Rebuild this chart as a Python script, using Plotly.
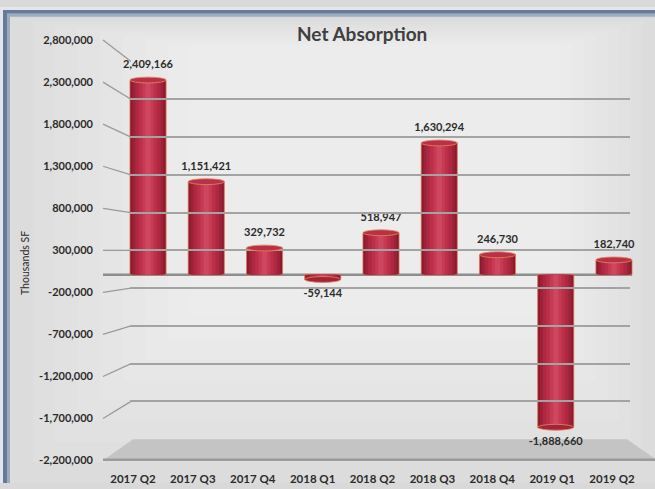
import plotly.graph_objects as go

# ---- data -------------------------------------------------------------
QUARTERS = ["2017 Q2", "2017 Q3", "2017 Q4", "2018 Q1", "2018 Q2",
            "2018 Q3", "2018 Q4", "2019 Q1", "2019 Q2"]
NET_ABSORPTION = [2409166, 1151421, 329732, -59144, 518947,
                  1630294, 246730, -1888660, 182740]
Y_TICKS = [2800000, 2300000, 1800000, 1300000, 800000, 300000,
           -200000, -700000, -1200000, -1700000, -2200000]

TITLE = "Net Absorption"
Y_TITLE = "Thousands SF"

# ---- canvas helpers (pixel -> paper) ------------------------------------
W, H = 655, 489
Y_RANGE = [-2200000, 2800000]


def px(x):
    return x / W


def py(y):
    return 1 - y / H


def value_px(v, top, bottom):
    """Pixel row of value v on an axis spanning Y_RANGE between top/bottom."""
    lo, hi = Y_RANGE
    return top + (hi - v) / (hi - lo) * (bottom - top)


# vertical extents (pixels) of the three value scales of the 3-D look
LABEL_SPAN = (34, 466)     # front edge: tick labels
BAR_SPAN = (42.6, 457.6)   # mid depth: the cylinders
WALL_SPAN = (56, 444)      # back wall: grid lines

FONT = "Lato"
DARK = "#2b2b2b"
BAR_WIDTH = 0.62

fig = go.Figure()

# cylinder shading: stacked bars of shrinking width, lighter towards centre
shades = [(BAR_WIDTH, "#8a1a30"), (0.54, "#9d2139"), (0.44, "#ae2841"),
          (0.32, "#bc2f48"), (0.20, "#c63a53"), (0.09, "#cd4760")]
for i, (w, c) in enumerate(shades):
    first = i == 0
    fig.add_trace(go.Bar(
        x=QUARTERS, y=NET_ABSORPTION, width=w,
        marker=dict(color=c,
                    line=dict(color="rgba(222,120,80,0.75)" if first else c,
                              width=1 if first else 0)),
        cliponaxis=False, hoverinfo="skip", showlegend=False,
        xaxis="x", yaxis="y",
    ))

# value labels: above positive bars, below negative ones
fig.add_trace(go.Scatter(
    x=QUARTERS, y=NET_ABSORPTION, mode="markers+text",
    marker=dict(size=13, opacity=0),
    text=[f"{v:,}" for v in NET_ABSORPTION],
    textposition=["top center" if v >= 0 else "bottom center"
                  for v in NET_ABSORPTION],
    textfont=dict(family=FONT, size=11, color=DARK, weight="bold"),
    cliponaxis=False, hoverinfo="skip", showlegend=False,
    xaxis="x", yaxis="y",
))

# carriers for the front tick labels and the back-wall grid
fig.add_trace(go.Scatter(x=QUARTERS, y=NET_ABSORPTION, mode="markers",
                         marker=dict(opacity=0), hoverinfo="skip",
                         showlegend=False, xaxis="x2", yaxis="y2"))
fig.add_trace(go.Scatter(x=QUARTERS, y=NET_ABSORPTION, mode="markers",
                         marker=dict(opacity=0), hoverinfo="skip",
                         showlegend=False, xaxis="x3", yaxis="y3"))

shapes = []

# soft radial-ish background: stacked translucent white panels
outer = (10, 11, 655, 489)
inner = (190, 40, 560, 320)
n = 9
for k in range(n):
    t = k / (n - 1)
    x0 = outer[0] + (inner[0] - outer[0]) * t
    y0 = outer[1] + (inner[1] - outer[1]) * t
    x1 = outer[2] + (inner[2] - outer[2]) * t
    y1 = outer[3] + (inner[3] - outer[3]) * t
    shapes.append(dict(type="rect", xref="paper", yref="paper",
                       x0=px(x0), x1=px(x1), y0=py(y1), y1=py(y0),
                       fillcolor="rgba(255,255,255,0.09)", line_width=0,
                       layer="below"))

# frame
frame = [((0, 0, 655, 3), "#e3e7ec"), ((0, 0, 3, 489), "#e3e7ec"),
         ((3, 3, 655, 7), "#677b99"), ((3, 3, 7, 489), "#677b99"),
         ((7, 7, 655, 10), "#9dabc0"), ((7, 7, 10, 489), "#9dabc0")]
for (x0, y0, x1, y1), c in frame:
    shapes.append(dict(type="rect", xref="paper", yref="paper",
                       x0=px(x0), x1=px(x1), y0=py(y1), y1=py(y0),
                       fillcolor=c, line_width=0, layer="below"))

# slanted connectors from the tick labels back to the wall grid lines
for v in Y_TICKS[:-1]:
    y_front = value_px(v, *LABEL_SPAN)
    y_back = value_px(v, *WALL_SPAN)
    shapes.append(dict(type="line", xref="paper", yref="paper",
                       x0=px(103), x1=px(131), y0=py(y_front), y1=py(y_back),
                       line=dict(color="#9a9a9a", width=1.3), layer="below"))

# floor
y_floor_back = value_px(Y_RANGE[0], *WALL_SPAN)
y_floor_front = value_px(Y_RANGE[0], *LABEL_SPAN)
shapes.append(dict(
    type="path", xref="paper", yref="paper",
    path=(f"M {px(133)} {py(y_floor_back)} L {px(627)} {py(y_floor_back)} "
          f"L {px(655)} {py(y_floor_front - 2)} L {px(655)} {py(y_floor_front)} "
          f"L {px(103)} {py(y_floor_front)} Z"),
    fillcolor="#c4c4c4", line_width=0, layer="between"))
shapes.append(dict(type="line", xref="paper", yref="paper",
                   x0=px(103), x1=px(655),
                   y0=py(y_floor_front - 1), y1=py(y_floor_front - 1),
                   line=dict(color="#9a9a9a", width=2.5), layer="between"))

# zero plane seen edge-on
shapes.append(dict(type="line", xref="paper", yref="y", x0=px(103), x1=px(632),
                   y0=0, y1=0, line=dict(color="#8e8e8e", width=2.5),
                   layer="between"))

# elliptical end caps of the cylinders (about 3 px tall each way)
units_per_px = (Y_RANGE[1] - Y_RANGE[0]) / (BAR_SPAN[1] - BAR_SPAN[0])
cap = 3 * units_per_px
for i, v in enumerate(NET_ABSORPTION):
    shapes.append(dict(
        type="circle", xref="x", yref="y",
        x0=i - BAR_WIDTH / 2, x1=i + BAR_WIDTH / 2, y0=v - cap, y1=v + cap,
        fillcolor="#b9304a" if v >= 0 else "#a4233c",
        line=dict(color="rgba(225,130,85,0.85)", width=1), layer="above"))

axis_off = dict(showgrid=False, zeroline=False, showline=False,
                showticklabels=False, ticks="")

fig.update_layout(
    width=W, height=H,
    margin=dict(l=0, r=0, t=0, b=0),
    paper_bgcolor="#d9d9d9",
    plot_bgcolor="rgba(0,0,0,0)",
    barmode="overlay",
    showlegend=False,
    shapes=shapes,
    xaxis=dict(domain=[px(118.9), px(643.1)], anchor="y", type="category",
               categoryorder="array", categoryarray=QUARTERS,
               range=[-0.5, 8.5], **axis_off),
    yaxis=dict(domain=[py(BAR_SPAN[1]), py(BAR_SPAN[0])], anchor="x",
               range=Y_RANGE, **axis_off),
    xaxis2=dict(domain=[px(103), px(642)], anchor="y2", type="category",
                categoryorder="array", categoryarray=QUARTERS,
                range=[-0.5, 8.5], showgrid=False, zeroline=False,
                showline=False, ticks="", ticklabelstandoff=10,
                tickfont=dict(family=FONT, size=11.5, color=DARK, weight="bold")),
    yaxis2=dict(domain=[py(LABEL_SPAN[1]), py(LABEL_SPAN[0])], anchor="x2",
                range=Y_RANGE, tickvals=Y_TICKS,
                ticktext=[f"{v:,}" for v in Y_TICKS],
                showgrid=False, zeroline=False, showline=False, ticks="",
                ticklabelstandoff=9,
                tickfont=dict(family=FONT, size=11, color=DARK, weight="bold")),
    xaxis3=dict(domain=[px(130), px(630)], anchor="y3", type="category",
                range=[-0.5, 8.5], **axis_off),
    yaxis3=dict(domain=[py(WALL_SPAN[1]), py(WALL_SPAN[0])], anchor="x3",
                range=Y_RANGE, tickvals=Y_TICKS, showgrid=True,
                gridcolor="#a3a3a3", gridwidth=1.5, zeroline=False,
                showline=False, showticklabels=False, ticks=""),
    annotations=[
        dict(text=TITLE, xref="paper", yref="paper", x=px(362), y=py(27),
             xanchor="center", yanchor="middle", showarrow=False,
             font=dict(family=FONT, size=19, color="#3f3f3f", weight="bold")),
        dict(text=Y_TITLE, xref="paper", yref="paper", x=px(25), y=py(263),
             xanchor="center", yanchor="middle", showarrow=False,
             textangle=-90,
             font=dict(family=FONT, size=10.5, color=DARK)),
    ],
)

fig.write_html("out.html")
